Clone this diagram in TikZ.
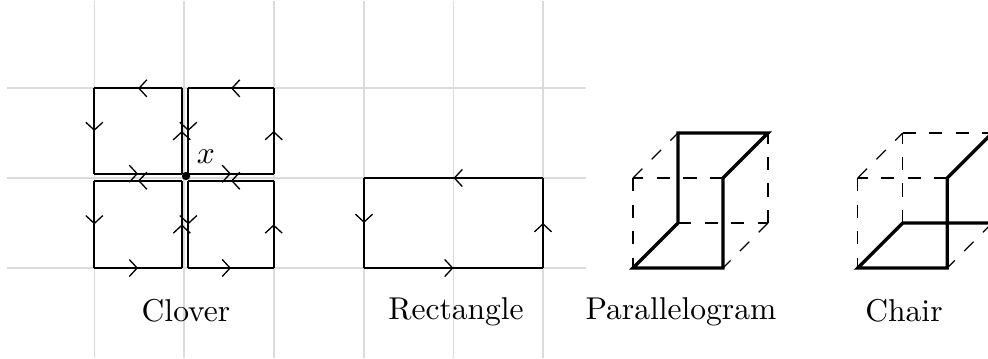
\documentclass[tikz,border=0pt]{standalone}
\usetikzlibrary{decorations.markings,arrows.meta}
\tikzset{
  x=0.011135cm,y=-0.011135cm,
  gridline/.style={black!14,line width=0.55pt},
  looptip/.tip={Straight Barb[length=2.5pt,width=5.4pt,line width=0.42pt]},
  loopedge/.style={line width=0.55pt,postaction={decorate},decoration={markings,mark=at position 0.5 with {\arrow{looptip}}}},
  boldedge/.style={line width=1.05pt,line join=miter,line cap=round},
  hiddenedge/.style={line width=0.4pt,dash pattern=on 4.2pt off 4.2pt},
  caption/.style={inner sep=0pt,anchor=base},
}
\newcommand{\squareloop}[4]{%
  \draw[loopedge] (#2,#3) -- (#1,#3);
  \draw[loopedge] (#1,#3) -- (#1,#4);
  \draw[loopedge] (#1,#4) -- (#2,#4);
  \draw[loopedge] (#2,#4) -- (#2,#3);
}
\begin{document}
\begin{tikzpicture}
\useasboundingbox (0,0) rectangle (988,358);
\clip (0,0) rectangle (988,358);
% grid
\foreach \gx in {94.5,184,274,364,453.5,543} \draw[gridline] (\gx,1) -- (\gx,358);
\foreach \gy in {88,178,268} \draw[gridline] (7,\gy) -- (586,\gy);
% clover
\squareloop{94.3}{181.8}{88.3}{173.7}
\squareloop{188.3}{273.7}{88.3}{173.7}
\squareloop{94.3}{181.8}{180.7}{268}
\squareloop{188.3}{273.7}{180.7}{268}
\fill (186,176) circle (4.2);
\node[inner sep=0pt] (xlabel) at (206,157) {$x$};
% rectangle
\squareloop{364}{543}{178}{268}
% parallelogram cube
\coordinate (pa) at (633,268); \coordinate (pb) at (723,268);
\coordinate (pc) at (723,178); \coordinate (pd) at (633,178);
\coordinate (pe) at (678,223); \coordinate (pf) at (768,223);
\coordinate (pg) at (768,133); \coordinate (ph) at (678,133);
\draw[hiddenedge] (pc) -- (pd);
\draw[hiddenedge] (pd) -- (pa);
\draw[hiddenedge] (pd) -- (ph);
\draw[hiddenedge] (pe) -- (pf);
\draw[hiddenedge] (pf) -- (pg);
\draw[hiddenedge] (pf) -- (pb);
\draw[boldedge] (pa) -- (pb) -- (pc) -- (pg) -- (ph) -- (pe) -- cycle;
% chair cube
\coordinate (ca) at (857.7,268); \coordinate (cb) at (947.3,268);
\coordinate (cc) at (947.3,178); \coordinate (cd) at (857.7,178);
\coordinate (ce) at (902.7,223); \coordinate (cf) at (992.3,223);
\coordinate (cg) at (992.3,133); \coordinate (ch) at (902.7,133);
\draw[hiddenedge] (cc) -- (cd);
\draw[hiddenedge] (cd) -- (ca);
\draw[hiddenedge] (cd) -- (ch);
\draw[hiddenedge] (ch) -- (cg);
\draw[hiddenedge] (ce) -- (ch);
\draw[hiddenedge] (cf) -- (cb);
\draw[boldedge] (cg) -- (cc) -- (cb) -- (ca) -- (ce) -- (cf);
% captions
\node[caption] (clover) at (186,321) {Clover};
\node[caption] (rect) at (456,319) {Rectangle};
\node[caption] (para) at (681,319) {Parallelogram};
\node[caption] (chair) at (904,321) {Chair};
\end{tikzpicture}
\end{document}
